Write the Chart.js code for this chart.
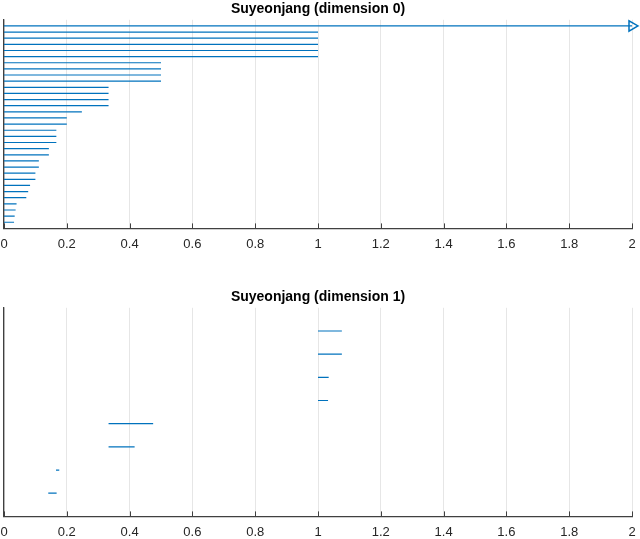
<!DOCTYPE html>
<html lang="en">
<head>
  <meta charset="UTF-8" />
  <title>Suyeonjang barcodes</title>
  <script src="https://cdn.jsdelivr.net/npm/chart.js"></script>
  <style>
    html, body { margin: 0; padding: 0; background: #fff; overflow: hidden; }
    .panel { position: absolute; left: 0; width: 640px; height: 260px; }
    #top { top: 0; }
    #bottom { top: 288px; }
  </style>
</head>
<body>
  <div class="panel" id="top"><canvas id="dim0"></canvas></div>
  <div class="panel" id="bottom"><canvas id="dim1"></canvas></div>

  <script>
    // x axis ticks (filtration value)
    const xTickValues = [0, 0.2, 0.4, 0.6, 0.8, 1, 1.2, 1.4, 1.6, 1.8, 2];
    const xMax = 2;

    // dimension 0 intervals, top to bottom (Infinity = never dies)
    const dim0Births = [0, 0, 0, 0, 0, 0, 0, 0, 0, 0, 0, 0, 0, 0, 0, 0, 0,
                        0, 0, 0, 0, 0, 0, 0, 0, 0, 0, 0, 0, 0, 0, 0, 0];
    const dim0Deaths = [Infinity, 1, 1, 1, 1, 1,
                        0.5, 0.5, 0.5, 0.5,
                        0.333, 0.333, 0.333, 0.333,
                        0.248, 0.2, 0.2,
                        0.1667, 0.1667, 0.1667,
                        0.1429, 0.1429,
                        0.111, 0.111,
                        0.1, 0.1,
                        0.083, 0.077, 0.071,
                        0.040, 0.037, 0.034, 0.032];

    // dimension 1 intervals, top to bottom
    const dim1Births = [1, 1, 1, 1, 0.333, 0.333, 0.1655, 0.141];
    const dim1Deaths = [1.076, 1.076, 1.034, 1.032, 0.475, 0.416, 0.176, 0.1676];

    const barColor = "#0072BD";
    const axisColor = "#404040";

    // small inward tick marks on the bottom axis
    const inwardTicks = {
      id: "inwardTicks",
      afterDraw(chart) {
        const xs = chart.scales.x;
        const ctx = chart.ctx;
        const y = chart.chartArea.bottom;
        ctx.save();
        ctx.strokeStyle = axisColor;
        ctx.lineWidth = 1;
        xs.ticks.forEach(t => {
          const px = Math.round(xs.getPixelForValue(t.value)) + 0.5;
          ctx.beginPath();
          ctx.moveTo(px, y);
          ctx.lineTo(px, y - 5);
          ctx.stroke();
        });
        ctx.restore();
      }
    };

    function makeBarcode(canvasId, title, births, deaths) {
      const datasets = births.map((b, i) => {
        const infinite = !isFinite(deaths[i]);
        const d = infinite ? xMax : deaths[i];
        return {
          data: [{ x: b, y: i + 1 }, { x: d, y: i + 1 }],
          showLine: true,
          borderColor: barColor,
          borderWidth: 1.2,
          backgroundColor: "rgba(0,0,0,0)",
          pointRadius: infinite ? [0, 6] : 0,
          pointStyle: "triangle",
          rotation: 90,
          pointBorderWidth: 1.5,
          pointBorderColor: barColor,
          clip: infinite ? false : undefined,
        };
      });

      return new Chart(document.getElementById(canvasId), {
        type: "scatter",
        data: { datasets: datasets },
        plugins: [inwardTicks],
        options: {
          responsive: true,
          maintainAspectRatio: false,
          animation: false,
          layout: {
            autoPadding: false,
            padding: { left: 4, right: 8, top: 0, bottom: 0 },
          },
          plugins: {
            legend: { display: false },
            tooltip: { enabled: false },
            title: {
              display: true,
              text: title,
              color: "#000",
              font: { family: "Liberation Sans", size: 14, weight: "bold" },
              padding: { top: 1, bottom: 2 },
            },
          },
          scales: {
            x: {
              type: "linear",
              min: 0,
              max: xMax,
              afterBuildTicks: axis => {
                axis.ticks = xTickValues.map(v => ({ value: v }));
              },
              afterFit: s => { s.paddingLeft = 0; s.paddingRight = 0; },
              ticks: {
                color: "#262626",
                padding: 8,
                maxRotation: 0,
                font: { family: "Liberation Sans", size: 13 },
                callback: v => String(Math.round(v * 10) / 10),
              },
              grid: { color: "#e6e6e6", lineWidth: 1, drawTicks: false },
              border: { display: true, color: axisColor, width: 1.3 },
            },
            y: {
              type: "linear",
              min: 0,
              max: births.length + 1,
              reverse: true,
              afterFit: s => { s.width = 0; },
              ticks: { display: false },
              grid: { display: false, drawTicks: false },
              border: { display: true, color: axisColor, width: 1.3 },
            },
          },
        },
      });
    }

    makeBarcode("dim0", "Suyeonjang (dimension 0)", dim0Births, dim0Deaths);
    makeBarcode("dim1", "Suyeonjang (dimension 1)", dim1Births, dim1Deaths);
  </script>
</body>
</html>
